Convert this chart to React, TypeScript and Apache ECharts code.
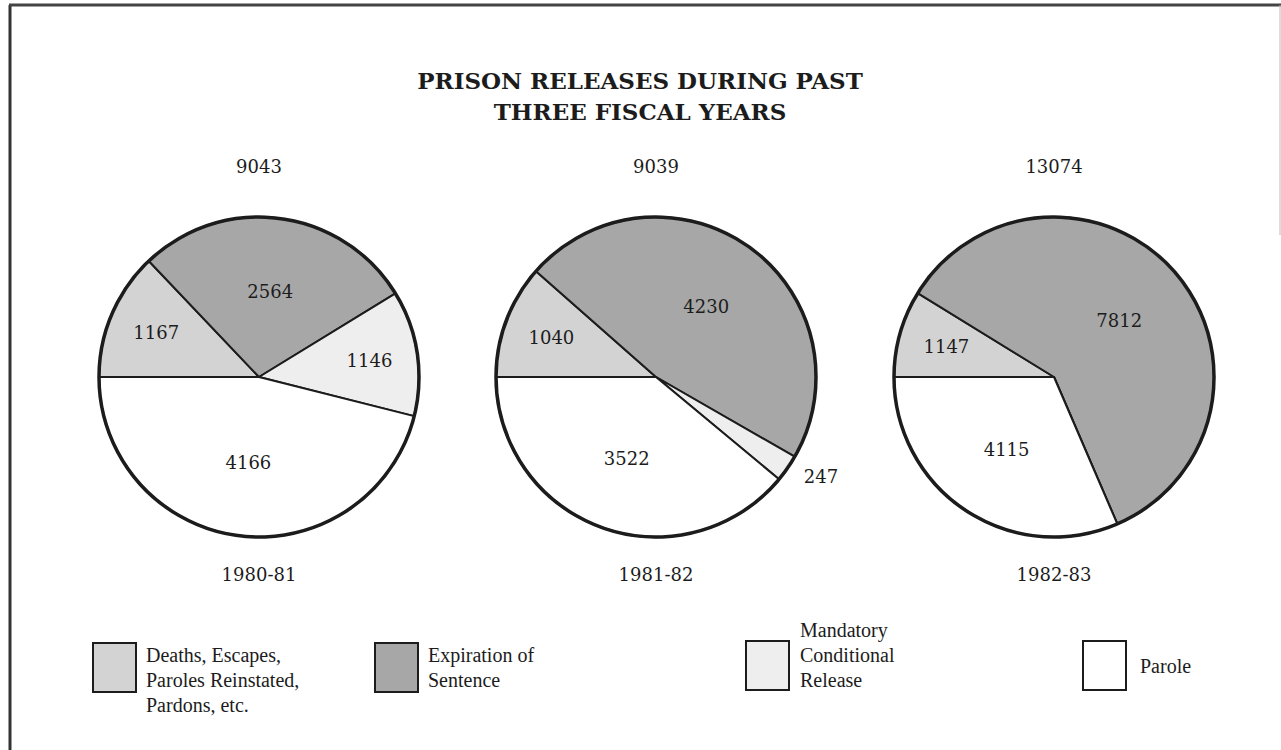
import React, { useEffect, useRef } from "react";
import * as echarts from "echarts";

// ---- data ----
const categories = [
  "Deaths, Escapes, Paroles Reinstated, Pardons, etc.",
  "Expiration of Sentence",
  "Mandatory Conditional Release",
  "Parole",
];
const legendLines = [
  ["Deaths, Escapes,", "Paroles Reinstated,", "Pardons, etc."],
  ["Expiration of", "Sentence"],
  ["Mandatory", "Conditional", "Release"],
  ["Parole"],
];
const fiscalYears = ["1980-81", "1981-82", "1982-83"];
const values1980 = [1167, 2564, 1146, 4166];
const values1981 = [1040, 4230, 247, 3522];
const values1982 = [1147, 7812, 0, 4115];
const yearValues = [values1980, values1981, values1982];
const titleLines = ["PRISON RELEASES DURING PAST", "THREE FISCAL YEARS"];

// ---- styles / layout ----
const sliceColors = ["#d3d3d3", "#a7a7a7", "#eeeeee", "#ffffff"];
const ink = "#1c1c1c";
const pieCentersX = [259, 656, 1054];
const pieCenterY = 377;
const pieR = 160;
const serifNum = "'DejaVu Serif', serif";
const serifText = "'Liberation Serif', 'DejaVu Serif', serif";
const legendBoxX = [93, 375, 746, 1083];
const legendBoxY = [643, 643, 641, 641];
const legendTextX = [146, 428, 800, 1140];
const legendTextCY = [680, 667, 655, 666];

function buildOption() {
  const series: any[] = [];
  const graphics: any[] = [];

  yearValues.forEach((vals, i) => {
    const total = vals.reduce((a, b) => a + b, 0);
    const center = [pieCentersX[i], pieCenterY];
    const share = (v: number) => v / total;
    const base = {
      type: "pie",
      center,
      startAngle: 180,
      clockwise: true,
      silent: true,
      avoidLabelOverlap: false,
      emphasis: { disabled: true },
      labelLine: { show: false, length: 14, length2: 0 },
    };
    const labelStyle = {
      fontFamily: serifNum,
      fontSize: 18,
      color: ink,
      formatter: "{c}",
    };
    // main slices
    series.push({
      ...base,
      radius: [0, pieR],
      itemStyle: { borderColor: ink, borderWidth: 2 },
      label: { ...labelStyle, position: "outside" },
      data: vals.map((v, j) => ({
        name: categories[j],
        value: v,
        itemStyle: { color: sliceColors[j] },
        label: { show: v > 0 && share(v) < 0.03 },
      })),
    });
    // label carrier for large slices (mid radius)
    series.push({
      ...base,
      radius: [0, pieR * 1.04],
      z: 3,
      itemStyle: { color: "rgba(0,0,0,0)", borderWidth: 0 },
      label: { ...labelStyle, position: "inside" },
      data: vals.map((v, j) => ({
        name: categories[j],
        value: v,
        label: { show: share(v) >= 0.15 },
      })),
    });
    // label carrier for small slices (outer radius)
    series.push({
      ...base,
      radius: [0, pieR * 1.36],
      z: 3,
      itemStyle: { color: "rgba(0,0,0,0)", borderWidth: 0 },
      label: { ...labelStyle, position: "inside" },
      data: vals.map((v, j) => ({
        name: categories[j],
        value: v,
        label: { show: share(v) >= 0.03 && share(v) < 0.15 },
      })),
    });
    // thick outer ring
    series.push({
      ...base,
      radius: [0, pieR],
      z: 4,
      itemStyle: { color: "rgba(0,0,0,0)", borderColor: ink, borderWidth: 3.5 },
      label: { show: false },
      data: [{ name: "ring", value: 1 }],
    });

    graphics.push({
      type: "text",
      x: pieCentersX[i],
      y: 166,
      style: {
        text: String(total),
        fontFamily: serifNum,
        fontSize: 18,
        fill: ink,
        textAlign: "center",
        textVerticalAlign: "middle",
      },
    });
    graphics.push({
      type: "text",
      x: pieCentersX[i],
      y: 574,
      style: {
        text: fiscalYears[i],
        fontFamily: serifNum,
        fontSize: 18,
        fill: ink,
        textAlign: "center",
        textVerticalAlign: "middle",
      },
    });
  });

  // title
  titleLines.forEach((t, k) => {
    graphics.push({
      type: "text",
      x: 640,
      y: 80 + k * 31,
      style: {
        text: t,
        fontFamily: serifNum,
        fontWeight: "bold",
        fontSize: 23,
        fill: ink,
        textAlign: "center",
        textVerticalAlign: "middle",
      },
    });
  });

  // legend
  categories.forEach((c, j) => {
    graphics.push({
      type: "rect",
      shape: { x: legendBoxX[j], y: legendBoxY[j], width: 43, height: 49 },
      style: { fill: sliceColors[j], stroke: ink, lineWidth: 2 },
    });
    graphics.push({
      type: "text",
      x: legendTextX[j],
      y: legendTextCY[j],
      style: {
        text: legendLines[j].join("\n"),
        fontFamily: serifText,
        fontSize: 20,
        lineHeight: 25,
        fill: ink,
        textAlign: "left",
        textVerticalAlign: "middle",
      },
    });
  });

  // frame
  graphics.push({
    type: "line",
    shape: { x1: 10, y1: 5, x2: 10, y2: 750 },
    style: { stroke: "#333", lineWidth: 3 },
  });
  graphics.push({
    type: "line",
    shape: { x1: 9, y1: 5, x2: 1281, y2: 5 },
    style: { stroke: "#444", lineWidth: 3 },
  });
  graphics.push({
    type: "line",
    shape: { x1: 1280, y1: 5, x2: 1280, y2: 235 },
    style: { stroke: "#bbb", lineWidth: 1 },
  });

  return {
    animation: false,
    backgroundColor: "#ffffff",
    series,
    graphic: graphics,
  };
}

export default function App() {
  const ref = useRef<HTMLDivElement>(null);
  useEffect(() => {
    document.body.style.margin = "0";
    if (!ref.current) return;
    const chart = echarts.init(ref.current, null, { renderer: "svg" });
    chart.setOption(buildOption() as any);
    return () => chart.dispose();
  }, []);
  return <div ref={ref} style={{ width: 1281, height: 750 }} />;
}
